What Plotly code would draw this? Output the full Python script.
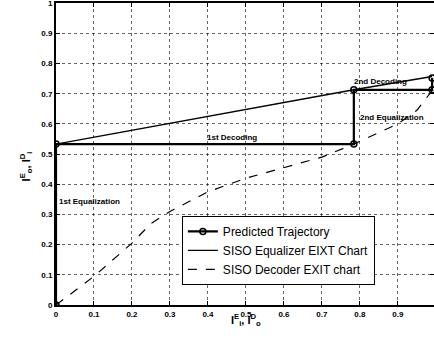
import plotly.graph_objects as go

# Predicted trajectory
traj_x = [0.0, 0.0, 0.784, 0.784, 0.99, 0.99]
traj_y = [0.0, 0.533, 0.533, 0.713, 0.713, 0.752]

# SISO equalizer EXIT chart
eq_x = [0.0, 0.25, 0.5, 0.784, 0.99]
eq_y = [0.533, 0.59, 0.648, 0.713, 0.757]

# SISO decoder EXIT chart
dec_x = [0.0, 0.1, 0.2, 0.25, 0.3, 0.4, 0.5, 0.6, 0.7, 0.784, 0.9, 0.95, 0.99]
dec_y = [0.0, 0.095, 0.205, 0.27, 0.31, 0.375, 0.42, 0.455, 0.49, 0.533, 0.6, 0.645, 0.71]

ticks = [0, 0.1, 0.2, 0.3, 0.4, 0.5, 0.6, 0.7, 0.8, 0.9]
yticks = [0, 0.1, 0.2, 0.3, 0.4, 0.5, 0.6, 0.7, 0.8, 0.9, 1]

notes = [
    ("1st Decoding", 0.463, 0.556),
    ("2nd Decoding", 0.855, 0.742),
    ("2nd Equalization", 0.884, 0.622),
    ("1st Equalization", 0.089, 0.344),
]

fig = go.Figure()
fig.add_trace(go.Scatter(x=traj_x, y=traj_y, mode="lines+markers", name="Predicted Trajectory",
                         line=dict(color="black", width=2.2),
                         marker=dict(symbol="circle-open", size=6, color="black", line=dict(width=1.5))))
fig.add_trace(go.Scatter(x=eq_x, y=eq_y, mode="lines", name="SISO Equalizer EIXT Chart",
                         line=dict(color="black", width=1.4)))
fig.add_trace(go.Scatter(x=dec_x, y=dec_y, mode="lines", name="SISO Decoder EXIT chart",
                         line=dict(color="black", width=1.2, dash="dash")))

for t, x, y in notes:
    fig.add_annotation(x=x, y=y, text=t, showarrow=False,
                       font=dict(family="Liberation Sans", size=8, color="black", weight="bold"))

fig.add_annotation(x=0.5, y=-0.082, xref="x", yref="paper",
                   text="I<sup>E</sup><sub>i</sub>, I<sup>D</sup><sub>o</sub>", showarrow=False,
                   font=dict(family="Liberation Sans", size=11, color="black", weight="bold"))
fig.add_annotation(x=-0.105, y=0.46, xref="paper", yref="paper", textangle=-90,
                   text="I<sup>E</sup><sub>o</sub>, I<sup>D</sup><sub>i</sub>", showarrow=False,
                   font=dict(family="Liberation Sans", size=11, color="black", weight="bold"))

axis_common = dict(showgrid=True, gridcolor="rgba(0,0,0,0.6)", griddash="dot", gridwidth=1,
                   ticks="inside", ticklen=4, tickcolor="black", showline=True, linecolor="black",
                   linewidth=2, mirror="ticks", zeroline=False, automargin=False,
                   ticklabeloverflow="allow",
                   tickfont=dict(family="Liberation Sans", size=8, color="black", weight="bold"))

fig.update_xaxes(range=[0, 0.995], tickvals=ticks, ticktext=[f"{v:g}" for v in ticks], **axis_common)
fig.update_yaxes(range=[0, 1.0005], tickvals=yticks, ticktext=[f"{v:g}" for v in yticks], **axis_common)

fig.update_layout(
    width=434, height=338,
    margin=dict(l=56, r=0, t=3, b=33, autoexpand=False),
    paper_bgcolor="white", plot_bgcolor="white",
    showlegend=True,
    legend=dict(x=0.333, y=0.295, xanchor="left", yanchor="top",
                bgcolor="white", bordercolor="black", borderwidth=1,
                font=dict(family="Liberation Sans", size=12, color="black"),
                tracegroupgap=0, itemwidth=30),
)

fig.write_html("out.html", config={"displayModeBar": False},
               post_script="document.body.style.margin='0px';")
